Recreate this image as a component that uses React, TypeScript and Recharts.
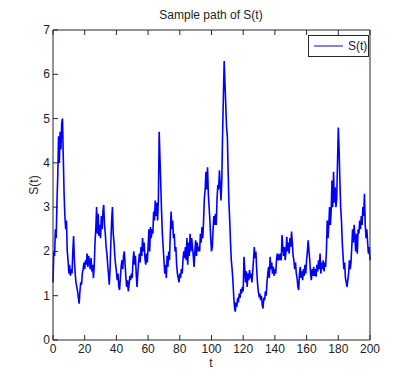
import React from 'react';
import { LineChart, Line, XAxis, YAxis, Legend } from 'recharts';

const STEP = 0.5;
const sValues = [
  1.3, 2.0, 1.9, 2.5, 2.3, 3.1, 3.7, 4.6, 4.0, 4.7,
  4.3, 4.9, 5.0, 4.1, 3.3, 2.8, 2.5, 2.7, 2.0, 1.8,
  1.5, 1.7, 1.45, 1.6, 1.5, 2.0, 2.35, 1.8, 1.5, 1.3,
  1.2, 1.1, 0.95, 0.82, 1.1, 1.3, 1.25, 1.5, 1.6, 1.75,
  1.6, 1.8, 1.7, 1.95, 1.65, 1.9, 1.75, 1.6, 1.85, 1.55,
  1.7, 1.4, 1.65, 2.2, 2.5, 3.0, 2.4, 2.85, 2.35, 2.6,
  2.3, 2.8, 2.5, 2.9, 3.05, 2.6, 2.4, 2.1, 1.95, 1.7,
  1.5, 1.25, 1.6, 2.2, 2.7, 3.0, 2.4, 2.2, 1.9, 1.7,
  1.55, 1.35, 1.5, 1.2, 1.13, 1.4, 1.65, 1.8, 1.6, 1.9,
  2.0, 1.7, 1.4, 1.2, 1.35, 1.1, 1.25, 1.45, 1.35, 1.5,
  1.4, 1.8, 2.0, 1.7, 1.9, 1.5, 1.2, 1.5, 1.75, 1.95,
  1.75, 2.1, 1.9, 2.3, 2.0, 2.2, 1.85, 1.7, 1.95, 1.75,
  2.1, 2.5, 2.0, 2.55, 2.3, 2.5, 2.4, 2.9, 2.7, 3.15,
  2.8, 3.1, 2.7, 3.2, 4.7, 4.1, 3.5, 2.9, 2.4, 2.1,
  1.8, 1.5, 1.7, 1.4, 1.9, 1.65, 2.0, 1.8, 2.4, 2.9,
  2.5, 2.7, 2.3, 2.4, 2.0, 2.1, 1.7, 1.5, 1.4, 1.3,
  1.5, 1.4, 1.6, 1.5, 1.8, 2.0, 1.85, 2.1, 1.8, 2.3,
  1.7, 2.2, 1.9, 2.4, 2.0, 2.3, 2.1, 1.9, 1.65, 2.0,
  2.25, 1.9, 2.2, 2.0, 2.1, 2.0, 2.4, 2.2, 2.55, 2.3,
  2.7, 3.2, 3.4, 3.8, 3.4, 3.9, 3.3, 3.0, 2.7, 2.3,
  2.0, 2.1, 2.5, 2.8, 2.6, 2.85, 2.6, 3.2, 3.5, 3.4,
  3.83, 3.5, 3.15, 3.6, 4.65, 5.5, 6.3, 5.8, 5.3, 4.8,
  4.6, 3.8, 3.1, 2.7, 2.2, 1.8, 1.6, 1.35, 1.0, 0.75,
  0.64, 0.85, 0.75, 0.95, 0.85, 1.05, 0.95, 1.15, 1.05, 1.2,
  1.1, 1.88, 1.6, 1.3, 1.55, 1.2, 1.5, 1.35, 1.58, 1.4,
  1.5, 1.3, 1.55, 1.8, 2.1, 1.85, 2.0, 1.6, 1.3, 1.1,
  1.0, 1.05, 0.9, 1.0, 0.8, 0.71, 0.95, 0.9, 1.1, 1.0,
  1.3, 1.5, 1.65, 1.4, 1.88, 1.6, 1.75, 1.5, 1.65, 1.45,
  1.6, 1.5, 1.8, 1.95, 1.8, 1.9, 1.85, 1.95, 1.8, 2.37,
  2.1, 1.9, 2.1, 1.8, 2.0, 2.33, 2.0, 2.2, 1.95, 2.3,
  2.1, 2.45, 2.2, 1.9, 1.8, 1.6, 1.75, 1.5, 1.4, 1.2,
  1.13, 1.5, 1.65, 1.4, 1.55, 1.35, 1.6, 1.45, 1.7, 1.5,
  1.8, 2.0, 2.25, 2.0, 1.8, 1.5, 1.35, 1.6, 1.45, 1.65,
  1.45, 1.6, 1.43, 1.7, 1.55, 1.8, 1.6, 1.95, 1.5, 1.75,
  1.6, 1.8, 1.55, 1.75, 1.65, 2.0, 2.7, 2.3, 2.6, 3.0,
  2.6, 2.9, 3.6, 3.0, 3.8, 3.1, 3.45, 3.0, 3.2, 4.0,
  4.8, 4.3, 3.6, 3.0, 2.7, 2.2, 1.9, 1.6, 1.75, 1.4,
  1.3, 1.2, 1.35, 1.5, 1.8, 1.6, 1.75, 2.1, 2.5, 2.2,
  2.6, 2.3, 2.0, 2.4, 1.95, 2.5, 2.4, 2.7, 2.5, 2.8,
  2.6, 3.0, 2.8, 3.3, 2.6, 2.3, 2.5, 2.2, 1.95, 2.1,
  1.8,
];
const tValues = sValues.map((_, i) => i * STEP);
const xTicks = [0, 20, 40, 60, 80, 100, 120, 140, 160, 180, 200];
const yTicks = [0, 1, 2, 3, 4, 5, 6, 7];

const data = tValues.map((t, i) => ({ t, s: sValues[i] }));

const FONT = "'Liberation Sans Narrow', 'Liberation Sans', Arial, sans-serif";
const INK = '#262626';
const TICK = 5;

// matlab style: ticks point into the box
const BottomTick = (p: any) => (
  <g>
    <line x1={p.x} y1={p.y} x2={p.x} y2={p.y - TICK} stroke={INK} />
    <text x={p.x} y={p.y + 13} textAnchor="middle" fontSize={12} fontFamily={FONT} fill="#222">
      {p.payload.value}
    </text>
  </g>
);
const TopTick = (p: any) => <line x1={p.x} y1={p.y} x2={p.x} y2={p.y + TICK} stroke={INK} />;
const LeftTick = (p: any) => (
  <g>
    <line x1={p.x} y1={p.y} x2={p.x + TICK} y2={p.y} stroke={INK} />
    <text x={p.x - 3} y={p.y + 4} textAnchor="end" fontSize={12} fontFamily={FONT} fill="#222">
      {p.payload.value}
    </text>
  </g>
);
const RightTick = (p: any) => <line x1={p.x} y1={p.y} x2={p.x - TICK} y2={p.y} stroke={INK} />;

const LegendBox = () => (
  <div
    style={{
      border: `1px solid ${INK}`,
      background: '#fff',
      height: 20,
      display: 'flex',
      alignItems: 'center',
      fontFamily: FONT,
      fontSize: 12,
      color: '#222',
    }}
  >
    <svg width={36} height={10}>
      <line x1={5} y1={5} x2={34} y2={5} stroke="#3333cc" strokeWidth={1.2} />
    </svg>
    <span style={{ marginLeft: 3 }}>S(t)</span>
  </div>
);

export default function App() {
  return (
    <div style={{ position: 'absolute', left: 0, top: 0, width: 409, height: 382, background: '#fff' }}>
      <LineChart width={409} height={382} data={data} margin={{ top: 29, right: 38, bottom: 12, left: 23 }}>
        <XAxis
          dataKey="t"
          type="number"
          domain={[0, 200]}
          ticks={xTicks}
          interval={0}
          height={30}
          tickSize={0}
          tickMargin={0}
          tickLine={false}
          axisLine={{ stroke: INK }}
          tick={BottomTick}
        />
        <XAxis
          xAxisId="top"
          dataKey="t"
          orientation="top"
          type="number"
          domain={[0, 200]}
          ticks={xTicks}
          interval={0}
          height={1}
          tickSize={0}
          tickMargin={0}
          tickLine={false}
          axisLine={{ stroke: INK }}
          tick={TopTick}
        />
        <YAxis
          type="number"
          domain={[0, 7]}
          ticks={yTicks}
          interval={0}
          width={30}
          tickSize={0}
          tickMargin={0}
          tickLine={false}
          axisLine={{ stroke: INK }}
          tick={LeftTick}
        />
        <YAxis
          yAxisId="right"
          orientation="right"
          type="number"
          domain={[0, 7]}
          ticks={yTicks}
          interval={0}
          width={1}
          tickSize={0}
          tickMargin={0}
          tickLine={false}
          axisLine={{ stroke: INK }}
          tick={RightTick}
        />
        <Legend
          layout="horizontal"
          verticalAlign="middle"
          align="center"
          content={LegendBox}
          wrapperStyle={{ top: 35, left: 308, width: 61 }}
        />
        <Line
          dataKey="s"
          name="S(t)"
          type="linear"
          stroke="#0000ff"
          strokeWidth={1.6}
          dot={false}
          isAnimationActive={false}
        />
        <text x={211} y={19} textAnchor="middle" fontSize={12} fontFamily={FONT} fill="#222">
          Sample path of S(t)
        </text>
        <text x={211} y={367} textAnchor="middle" fontSize={12} fontFamily={FONT} fill="#222">
          t
        </text>
        <text
          x={38}
          y={185}
          textAnchor="middle"
          fontSize={12}
          fontFamily={FONT}
          fill="#222"
          transform="rotate(-90 38 185)"
        >
          S(t)
        </text>
      </LineChart>
    </div>
  );
}
